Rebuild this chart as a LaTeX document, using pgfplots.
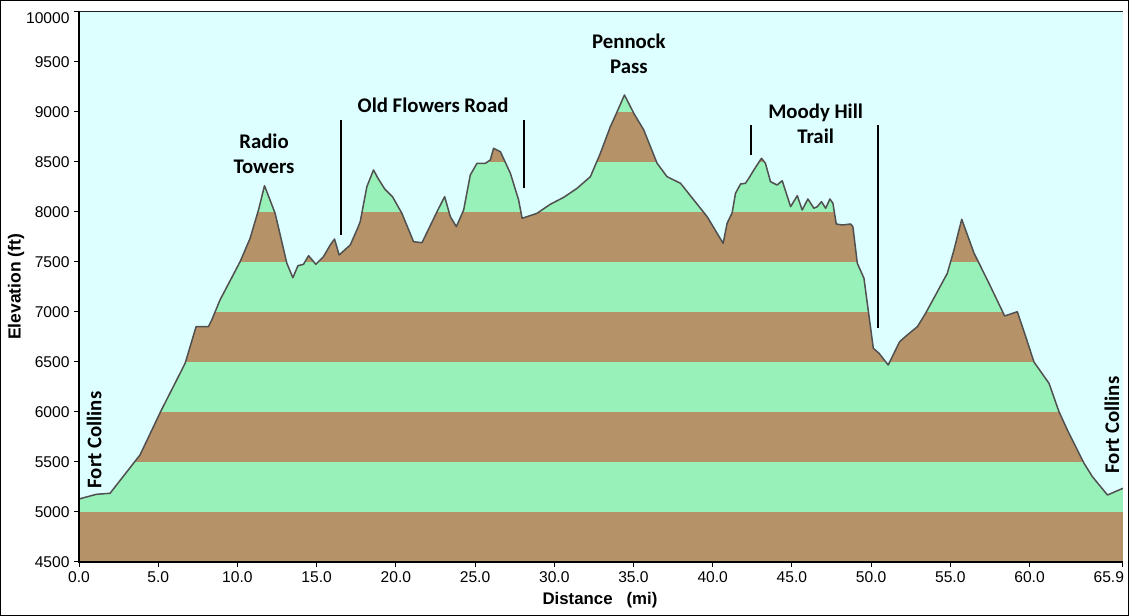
\documentclass[border=0pt]{standalone}
\usepackage{fontspec}
\setmainfont{Liberation Sans}
\newfontfamily\calib{Carlito}
\usepackage{pgfplots}
\pgfplotsset{compat=1.18}
\usepackage{pgfplotstable}
\definecolor{sky}{RGB}{221,255,255}
\definecolor{grn}{RGB}{152,241,184}
\definecolor{brn}{RGB}{182,146,104}
\definecolor{profc}{RGB}{80,80,80}

\pgfplotstableread{
x y
0 5130
1.1 5177
1.96 5187
3.85 5570
5.18 6013
6.06 6287
6.7 6487
7.39 6853
8.17 6853
8.38 6920
8.9 7120
10.17 7503
10.8 7737
11.33 8020
11.71 8263
12.38 7987
13.12 7487
13.5 7343
13.82 7463
14.17 7477
14.49 7563
14.95 7477
15.43 7553
15.86 7670
16.13 7730
16.42 7570
17.12 7670
17.54 7820
17.75 7903
18.17 8253
18.59 8420
18.9 8330
19.3 8230
19.8 8150
20.38 7987
21.12 7703
21.65 7693
22.6 8003
23.08 8153
23.44 7953
23.82 7853
24.28 8020
24.7 8370
25.12 8487
25.65 8487
25.96 8520
26.17 8637
26.6 8603
27.23 8387
27.75 8120
27.97 7937
28.91 7987
29.75 8077
30.6 8147
31.44 8237
32.28 8353
32.91 8587
33.54 8853
33.97 9003
34.43 9170
35.02 8987
35.65 8820
36.49 8487
37.12 8353
37.97 8287
38.81 8120
39.65 7953
40.28 7787
40.66 7687
40.91 7887
41.23 7993
41.44 8187
41.76 8280
42.07 8287
42.28 8337
42.6 8420
43.08 8537
43.33 8487
43.65 8303
44.07 8270
44.39 8313
44.92 8053
45.34 8163
45.65 8020
46.01 8130
46.39 8037
46.6 8053
46.87 8103
47.13 8037
47.4 8130
47.59 8087
47.8 7880
48.18 7870
48.71 7880
48.85 7853
49.13 7487
49.55 7337
49.76 7087
50.14 6637
50.5 6587
51.08 6470
51.8 6703
52.28 6770
52.92 6853
53.44 6987
54.07 7170
54.81 7387
55.23 7620
55.72 7927
56.5 7587
57.34 7320
58.43 6960
59.23 7003
59.76 6753
60.28 6500
61.23 6287
61.86 6003
62.39 5820
63.44 5487
63.97 5353
64.92 5170
65.9 5237
}\profile

\begin{document}
\begin{tikzpicture}[x=1bp,y=1bp]
\useasboundingbox (0,0) rectangle (1129,616);
\fill[white] (0,0) rectangle (1129,616);
\begin{axis}[
  at={(79bp,54bp)}, anchor=south west,
  scale only axis, width=1044bp, height=550bp,
  xmin=0, xmax=65.9, ymin=4500, ymax=10000,
  axis background/.style={fill=sky},
  axis line style={line width=1bp, black},
  tick align=outside,
  xtick pos=left, ytick pos=left,
  major tick length=5bp,
  tick style={black, line width=1bp},
  xtick={0,5,10,15,20,25,30,35,40,45,50,55,60,65.9},
  xticklabels={0.0,5.0,10.0,15.0,20.0,25.0,30.0,35.0,40.0,45.0,50.0,55.0,60.0,\makebox[0pt][r]{65.9\hspace{-1bp}}},
  ytick={4500,5000,5500,6000,6500,7000,7500,8000,8500,9000,9500},
  yticklabels={4500,5000,5500,6000,6500,7000,7500,8000,8500,9000,9500},
  extra y ticks={10000},
  extra y tick labels={10000},
  extra y tick style={yticklabel style={yshift=-6bp}},
  tick label style={font=\fontsize{15.6bp}{18bp}\selectfont, text=black},
  xticklabel style={yshift=-1bp},
  yticklabel style={xshift=-1bp},
]
\addplot[draw=none, fill=grn] coordinates {(0,4500) (65.9,4500) (65.9,10000) (0,10000)} -- cycle;
\addplot[draw=none, fill=brn] coordinates {(0,4500) (65.9,4500) (65.9,5000) (0,5000)} -- cycle;
\addplot[draw=none, fill=brn] coordinates {(0,5500) (65.9,5500) (65.9,6000) (0,6000)} -- cycle;
\addplot[draw=none, fill=brn] coordinates {(0,6500) (65.9,6500) (65.9,7000) (0,7000)} -- cycle;
\addplot[draw=none, fill=brn] coordinates {(0,7500) (65.9,7500) (65.9,8000) (0,8000)} -- cycle;
\addplot[draw=none, fill=brn] coordinates {(0,8500) (65.9,8500) (65.9,9000) (0,9000)} -- cycle;
\addplot[draw=none, fill=brn] coordinates {(0,9500) (65.9,9500) (65.9,10000) (0,10000)} -- cycle;
\addplot[draw=none, fill=sky] table {\profile} -- (axis cs:65.9,10000) -- (axis cs:0,10000) -- cycle;
\addplot[profc, line width=1.5bp, line join=round] table {\profile};
% annotation lines
\addplot[black, line width=2bp] coordinates {(16.55,8920) (16.55,7770)};
\addplot[black, line width=2bp] coordinates {(28.11,8920) (28.11,8240)};
\addplot[black, line width=2bp] coordinates {(42.45,8870) (42.45,8570)};
\addplot[black, line width=2bp] coordinates {(50.41,8870) (50.41,6840)};
% annotation labels
\node[font=\calib\bfseries\fontsize{20.8bp}{24.5bp}\selectfont, align=center] at (axis cs:11.68,8580) {Radio\\Towers};
\node[font=\calib\bfseries\fontsize{20.8bp}{24.5bp}\selectfont] at (axis cs:22.35,9070) {Old Flowers Road};
\node[font=\calib\bfseries\fontsize{20.8bp}{24.5bp}\selectfont, align=center] at (axis cs:34.71,9580) {Pennock\\Pass};
\node[font=\calib\bfseries\fontsize{20.8bp}{24.5bp}\selectfont, align=center] at (axis cs:46.5,8880) {Moody Hill\\Trail};
\node[font=\calib\bfseries\fontsize{20.8bp}{24.5bp}\selectfont, rotate=90] at (axis cs:0.95,5720) {Fort Collins};
\node[font=\calib\bfseries\fontsize{20.8bp}{24.5bp}\selectfont, rotate=90] at (axis cs:65.2,5870) {Fort Collins};
\end{axis}
\draw[line width=2bp, black] (79,605) -- (79,54) -- (1123,54);
\node[font=\bfseries\fontsize{17.5bp}{20bp}\selectfont, rotate=90] at (16,329) {Elevation (ft)};
\node[font=\bfseries\fontsize{16.8bp}{20bp}\selectfont] at (600,16) {Distance\ \ \ (mi)};
\draw[line width=1bp, black] (0.5,0.5) rectangle (1128.5,615.5);
\end{tikzpicture}
\end{document}
